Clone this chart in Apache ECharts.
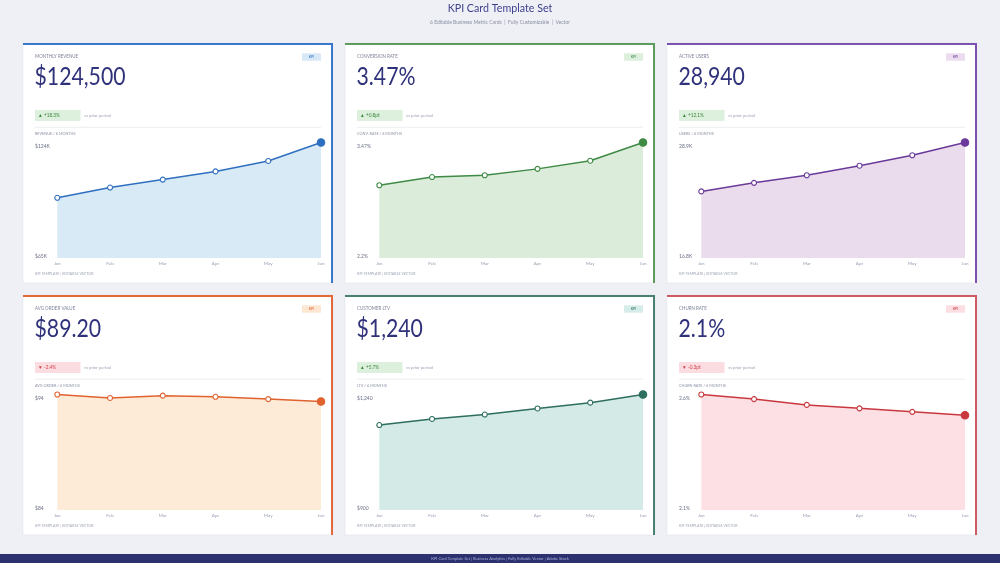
<!DOCTYPE html>
<html>
<head>
<meta charset="utf-8">
<script src="https://cdn.jsdelivr.net/npm/echarts@6/dist/echarts.min.js"></script>
<style>
html,body{margin:0;padding:0;background:#eef0f6;}
#c{width:1000px;height:563px;}
</style>
</head>
<body>
<div id="c"></div>
<script>
// ---- data ----
const months = ['Jan','Feb','Mar','Apr','May','Jun'];
const revenue = [96, 101.3, 105.4, 109.6, 115, 124.5];
const conversion = [3.00, 3.09, 3.11, 3.18, 3.27, 3.47];
const users = [23.8, 24.7, 25.5, 26.5, 27.6, 28.94];
const avgOrder = [94, 93.7, 93.9, 93.8, 93.6, 93.4];
const ltv = [1150, 1168, 1181, 1199, 1216, 1240];
const churn = [2.6, 2.58, 2.555, 2.54, 2.525, 2.51];

const axisMins = [65, 2.2, 16.8, 84, 900, 2.1];
const topLabels = ['$124K', '3.47%', '28.9K', '$94', '$1,240', '2.6%'];
const bottomLabels = ['$65K', '2.2%', '16.8K', '$84', '$900', '2.1%'];

const cardTitles = ['MONTHLY REVENUE', 'CONVERSION RATE', 'ACTIVE USERS', 'AVG ORDER VALUE', 'CUSTOMER LTV', 'CHURN RATE'];
const kpiValues = ['$124,500', '3.47%', '28,940', '$89.20', '$1,240', '2.1%'];
const changes = ['+18.3%', '+0.8pt', '+12.1%', '-2.4%', '+5.7%', '-0.3pt'];
const changeUp = [true, true, true, false, true, false];
const chartLabels = ['REVENUE / 6 MONTHS', 'CONV. RATE / 6 MONTHS', 'USERS / 6 MONTHS', 'AVG ORDER / 6 MONTHS', 'LTV / 6 MONTHS', 'CHURN RATE / 6 MONTHS'];

const seriesData = [revenue, conversion, users, avgOrder, ltv, churn];

// ---- styles ----
const lineColors = ['#2f6fc0', '#3f8a45', '#6a3a9a', '#e0622e', '#2e6e5e', '#c8383e'];
const borderColors = ['#3a78c9', '#5e9c5e', '#7b52b0', '#e3693a', '#4a8070', '#d05a62'];
const areaColors = ['#d9eaf7', '#dcecdb', '#eadcec', '#fdebd8', '#d3eae6', '#fde0e4'];
const kpiBadgeFill = ['#d8e8f6', '#dcefdc', '#ecdcef', '#fde6d2', '#d5ecea', '#fbdde2'];

const FONT = 'Lato, "Noto Sans", sans-serif';

const cardX = [23, 345, 667];
const cardY = [43, 295];
const CW = 310, CH = 240;

const graphics = [];
const grids = [], xAxes = [], yAxes = [], series = [];

function txt(x, y, text, size, color, opts) {
  return Object.assign({
    type: 'text', x: x, y: y, z: 10,
    style: Object.assign({
      text: text, fill: color, fontSize: size, fontFamily: FONT,
      align: 'left', verticalAlign: 'middle'
    }, (opts && opts.style) || {})
  }, (opts && opts.el) || {});
}
const SQ = {scaleX: 0.86};

// header
graphics.push(txt(500, 8.5, 'KPI Card Template Set', 11.5, '#3b3f8c', {style: {align: 'center'}, el: {scaleX: 0.93}}));
graphics.push(txt(500, 22, '6 Editable Business Metric Cards  |  Fully Customizable  |  Vector', 5, '#8b8fa3', {style: {align: 'center'}}));
// footer bar
graphics.push({type: 'rect', shape: {x: 0, y: 554, width: 1000, height: 9}, style: {fill: '#2d3170'}, z: 5});
graphics.push(txt(500, 558.5, 'KPI Card Template Set | Business Analytics | Fully Editable Vector | Adobe Stock', 4.4, '#aab0dd', {style: {align: 'center'}, el: {scaleX: 0.9}}));

for (let i = 0; i < 6; i++) {
  const x0 = cardX[i % 3], y0 = cardY[Math.floor(i / 3)];
  const c = lineColors[i];
  // card
  graphics.push({type: 'rect', shape: {x: x0, y: y0, width: CW, height: CH}, style: {fill: '#ffffff', stroke: '#e2e5ed', lineWidth: 0.6}, z: 1});
  graphics.push({type: 'rect', shape: {x: x0, y: y0, width: CW, height: 2}, style: {fill: borderColors[i]}, z: 2});
  graphics.push({type: 'rect', shape: {x: x0 + CW - 2, y: y0, width: 2, height: CH}, style: {fill: borderColors[i]}, z: 2});
  // title
  graphics.push(txt(x0 + 12, y0 + 13.5, cardTitles[i], 5.2, '#7d8298', {el: SQ}));
  // KPI badge
  graphics.push({type: 'rect', shape: {x: x0 + 279, y: y0 + 10.3, width: 19, height: 7.4}, style: {fill: kpiBadgeFill[i]}, z: 3});
  graphics.push(txt(x0 + 288.5, y0 + 14, 'KPI', 3.6, c, {style: {align: 'center'}}));
  // big value
  graphics.push(txt(x0 + 11.5, y0 + 33.5, kpiValues[i], 25, '#2f317a', {el: {scaleX: 0.85}}));
  // change badge
  const up = changeUp[i];
  graphics.push({type: 'rect', shape: {x: x0 + 12, y: y0 + 67, width: 45.5, height: 11}, style: {fill: up ? '#ddefdd' : '#fbdde1'}, z: 3});
  graphics.push(txt(x0 + 15, y0 + 72.6, (up ? '\u25B2 ' : '\u25BC ') + changes[i], 5, up ? '#3c8a3c' : '#d0404a', {el: {scaleX: 0.95}}));
  graphics.push(txt(x0 + 61, y0 + 72.6, 'vs prior period', 4.6, '#9da2b5', {el: {scaleX: 0.92}}));
  // separator
  graphics.push({type: 'line', shape: {x1: x0 + 12, y1: y0 + 84.3, x2: x0 + 298, y2: y0 + 84.3}, style: {stroke: '#e6e8ef', lineWidth: 0.8}, z: 3});
  // chart label
  graphics.push(txt(x0 + 12, y0 + 90.5, chartLabels[i], 4.4, '#8b90a5', {el: SQ}));
  // footer
  graphics.push(txt(x0 + 12, y0 + 230.3, 'KPI TEMPLATE | EDITABLE VECTOR', 4, '#a0a5b8', {el: {scaleX: 0.9}}));

  const data = seriesData[i];
  const minV = axisMins[i];
  const maxV = Math.max.apply(null, data);
  grids.push({left: x0 + 34.3, top: y0 + 99.5, width: 263.7, height: 115.5, containLabel: false, z: 10});
  xAxes.push({
    type: 'category', gridIndex: i, data: months, boundaryGap: false, z: 10,
    axisLine: {show: false}, axisTick: {show: false}, splitLine: {show: false},
    axisLabel: {fontSize: 4.6, color: '#9aa0b4', margin: 3.5, fontFamily: FONT, interval: 0}
  });
  const tl = topLabels[i], bl = bottomLabels[i];
  yAxes.push({
    type: 'value', gridIndex: i, min: minV, max: maxV, z: 10,
    axisLine: {show: false}, axisTick: {show: false}, splitLine: {show: false},
    axisLabel: {
      showMinLabel: true, showMaxLabel: true, hideOverlap: false,
      fontSize: 5, color: '#6b7085', fontFamily: FONT, align: 'left', margin: 22.3,
      rich: {
        t: {fontSize: 5, color: '#6b7085', fontFamily: FONT, padding: [8, 0, 0, 0]},
        b: {fontSize: 5, color: '#6b7085', fontFamily: FONT, padding: [0, 0, 3, 0]}
      },
      formatter: function (v) {
        const eps = (maxV - minV) * 1e-6;
        if (Math.abs(v - minV) < eps) return '{b|' + bl + '}';
        if (Math.abs(v - maxV) < eps) return '{t|' + tl + '}';
        return '';
      }
    }
  });
  series.push({
    type: 'line', xAxisIndex: i, yAxisIndex: i, z: 12,
    data: data.map(function (v, k) {
      if (k === data.length - 1) {
        return {value: v, symbolSize: 7.5, itemStyle: {color: c, borderColor: c}};
      }
      return v;
    }),
    symbol: 'circle', symbolSize: 5,
    itemStyle: {color: '#ffffff', borderColor: c, borderWidth: 1.1},
    lineStyle: {color: c, width: 1.5},
    areaStyle: {color: areaColors[i], opacity: 1, origin: 'start'},
    silent: true, animation: false
  });
}

const chart = echarts.init(document.getElementById('c'), null, {renderer: 'canvas'});
chart.setOption({
  backgroundColor: '#eef0f6',
  animation: false,
  grid: grids,
  xAxis: xAxes,
  yAxis: yAxes,
  series: series,
  graphic: {elements: graphics}
});
</script>
</body>
</html>
